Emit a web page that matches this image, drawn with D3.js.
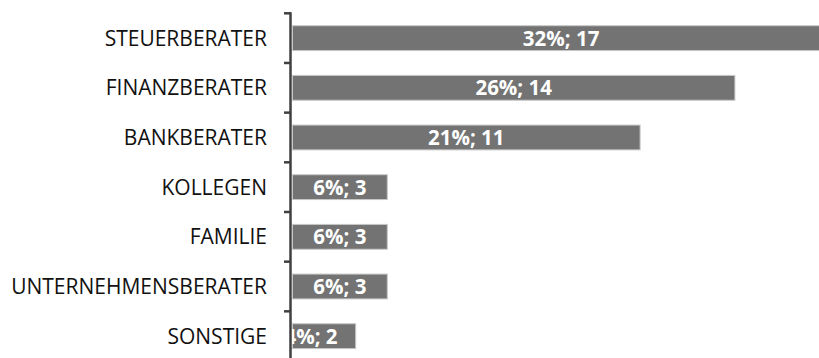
<!DOCTYPE html>
<html><head><meta charset="utf-8">
<script src="https://cdn.jsdelivr.net/npm/d3@7"></script>
<style>
html,body{margin:0;padding:0;background:#fff;overflow:hidden;}
</style></head>
<body>
<svg id="chart" width="819" height="358"></svg>
<script>
const categories = ["STEUERBERATER","FINANZBERATER","BANKBERATER","KOLLEGEN","FAMILIE","UNTERNEHMENSBERATER","SONSTIGE"];
const counts = [17,14,11,3,3,3,2];
const percents = [32,26,21,6,6,6,4];

const data = categories.map((c,i)=>({cat:c, n:counts[i], pct:percents[i]}));
const svg = d3.select("#chart");
const x0 = 292.5;
const x = d3.scaleLinear().domain([0,17]).range([x0, x0 + 17*31.6]);
const y = d3.scaleBand().domain(categories).range([13.3, 361]).paddingInner(0.5).paddingOuter(0.25);

// bars
svg.append("g").selectAll("rect").data(data).join("rect")
  .attr("x", x(0)).attr("y", d=>y(d.cat))
  .attr("width", d=>x(d.n)-x(0)).attr("height", y.bandwidth())
  .attr("fill","#737373").attr("stroke","#c8c8c8").attr("stroke-width",1);

// value labels
const lab = svg.append("g").selectAll("text").data(data).join("text")
  .attr("y", d=>y(d.cat)+y.bandwidth()/2)
  .attr("dy","0.36em")
  .attr("fill","#fff")
  .style("font-family","'Open Sans', sans-serif")
  .style("font-weight","700")
  .style("font-size","20.5px")
  .text(d=>d.pct+"%; "+d.n);
lab.each(function(d){
  const w = this.getComputedTextLength();
  const bw = x(d.n)-x(0);
  const t = d3.select(this);
  if (w + 12 > bw) { t.attr("x", x(0)-8).attr("text-anchor","start"); }
  else { t.attr("x", (x(0)+x(d.n))/2).attr("text-anchor","middle"); }
});

// axis line and ticks at band boundaries
const step = y.step();
const start = 13.3;
const ag = svg.append("g");
ag.append("line").attr("x1",290.5).attr("x2",290.5).attr("y1",start-1).attr("y2",361)
  .attr("stroke","#404040").attr("stroke-width",2.5);
ag.selectAll("line.tick").data(d3.range(categories.length+1)).join("line").attr("class","tick")
  .attr("x1",284).attr("x2",291).attr("y1",i=>start+i*step).attr("y2",i=>start+i*step)
  .attr("stroke","#404040").attr("stroke-width",2.5);

// category labels
svg.append("g").selectAll("text").data(data).join("text")
  .attr("x",267).attr("y", d=>y(d.cat)+y.bandwidth()/2)
  .attr("dy","0.36em").attr("text-anchor","end")
  .attr("fill","#111")
  .style("font-family","'Open Sans', sans-serif")
  .style("font-size","21px")
  .text(d=>d.cat);
</script>
</body></html>
